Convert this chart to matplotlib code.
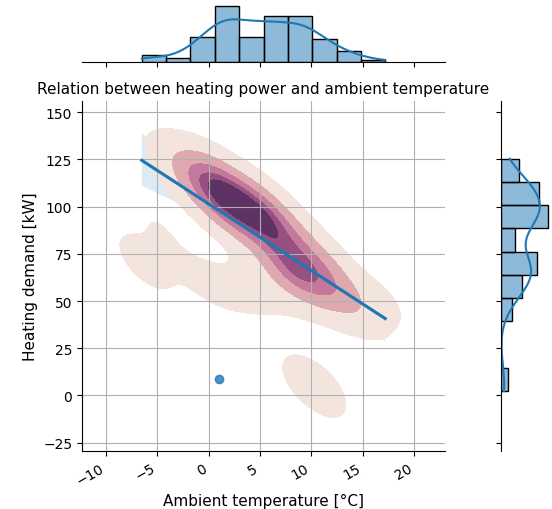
import numpy as np
import pandas as pd
import matplotlib
matplotlib.use("Agg")
import matplotlib.pyplot as plt
from matplotlib.colors import ListedColormap, BoundaryNorm
from matplotlib.contour import ContourSet
import seaborn as sns

# ambient temperature [°C] and heating demand [kW]
temp = [-4.8, -6.52, -6.0,
        -3.6, -2.4,
        -1.6, -1.1, -0.6, -0.2, 0.3, -1.3, -0.4, 0.1, 0.5, 0.4, -1.0,
        0.65, 0.85, 1.15,
        0.7, 0.9, 1.1, 1.3, 1.4, 1.6, 1.8, 2.0, 2.2, 2.5, 2.8,
        1.5, 1.9, 2.1, 2.3, 2.5, 2.65, 2.8, 2.92, 1.4, 1.0,
        3.1, 3.3, 3.5, 3.8, 4.2, 3.6, 4.0, 4.4, 4.8, 5.2, 3.8,
        5.4, 5.35, 5.45, 5.55, 5.65, 5.8, 5.9, 6.0, 6.1, 6.2, 6.35, 6.5,
        5.4, 5.5, 5.7, 7.6, 6.6, 7.55, 5.6, 6.3,
        9.3, 9.6, 9.9,
        8.0, 8.1, 8.2, 8.25, 8.3, 8.35, 8.4, 8.5, 8.55, 8.6, 8.7, 8.8, 8.9,
        9.2, 9.5, 9.9, 9.6,
        10.2, 10.3, 10.7, 11.2, 10.6, 11.4, 12.0, 12.3, 10.4, 10.9,
        12.7, 13.1, 13.6, 14.1, 14.6,
        17.18]
heat = [88.3, 74.0, 67.0,
        125.4, 117.0,
        116.0, 114.5, 117.5, 113.5, 114.0, 111.5, 109.0, 111.0, 107.0, 100.0, 61.0,
        115.0, 113.3, 113.8,
        110.5, 107.5, 111.0, 106.0, 109.5, 104.5, 108.0, 103.0, 106.5, 101.5, 104.0,
        100.0, 98.5, 100.5, 97.0, 99.0, 95.5, 98.0, 93.5, 56.5, 8.5,
        105.5, 102.0, 104.0, 101.2, 102.5, 97.5, 94.0, 98.0, 92.5, 95.5, 55.0,
        101.0, 94.0, 97.5, 91.0, 95.5, 93.0, 89.5, 96.0, 91.5, 94.5, 89.0, 92.0,
        86.0, 82.0, 87.5, 66.0, 90.0, 64.5, 58.0, 61.5,
        77.0, 76.5, 78.0,
        68.0, 66.5, 69.5, 67.0, 70.0, 65.5, 68.0, 69.0, 66.5, 70.5, 67.5, 69.0, 66.0,
        62.0, 58.5, 61.0, 5.0,
        77.0, 68.5, 65.0, 66.5, 63.5, 61.0, 62.5, 51.0, 2.3, 7.5,
        58.0, 51.0, 50.0, 51.2, 49.5,
        50.0]

band_colors = ["#f3e4de", "#deaab0", "#c4789b", "#965082", "#5f3264"]

xlab = "Ambient temperature [°C]"
ylab = "Heating demand [kW]"
df = pd.DataFrame({xlab: temp, ylab: heat})

g = sns.jointplot(data=df, x=xlab, y=ylab, kind="reg",
                  joint_kws=dict(seed=0), marginal_kws=dict(bins=10))
g.plot_joint(sns.kdeplot, fill=True, levels=6, thresh=0.06,
             cmap=sns.cubehelix_palette(as_cmap=True))

ax = g.ax_joint
# recolour the filled kde bands, one colour per band
for coll in ax.collections:
    if isinstance(coll, ContourSet):
        lv = coll.levels
        n = len(lv) - 1
        coll.set_cmap(ListedColormap(band_colors[:n]))
        coll.set_norm(BoundaryNorm(lv, n))

fig = g.figure
fig.set_size_inches(5.52, 5.10)
ax.set_position([0.1486, 0.1137, 0.6576, 0.6863])
g.ax_marg_x.set_position([0.1486, 0.8759, 0.6576, 0.1153])
g.ax_marg_y.set_position([0.9071, 0.1137, 0.0893, 0.6863])

ax.grid(True)
ax.set_xlim(-12.34, 23.0)
ax.set_ylim(-29.5, 156)
ax.set_xticks(np.arange(-10, 21, 5))
ax.set_yticks(np.arange(-25, 151, 25))
ax.set_xlabel(xlab, fontsize=11)
ax.set_ylabel(ylab, fontsize=11)
ax.set_title("Relation between heating power and ambient temperature", fontsize=11)
plt.setp(ax.get_xticklabels(), rotation=30, ha="right")

fig.savefig("out.png", dpi=100)
